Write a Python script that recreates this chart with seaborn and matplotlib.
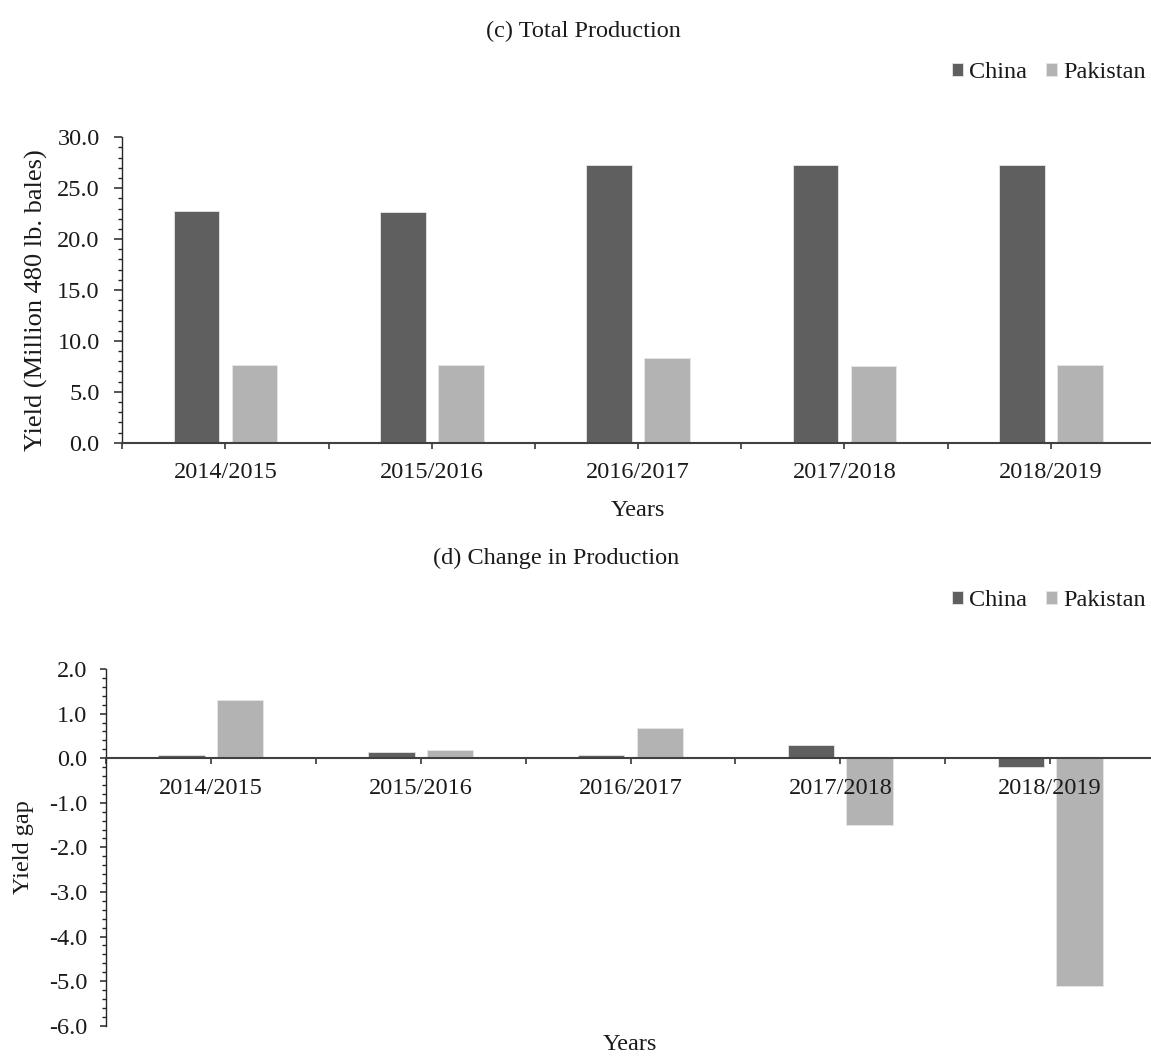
import matplotlib
matplotlib.use("Agg")
import matplotlib.pyplot as plt
from matplotlib.ticker import FixedLocator, MultipleLocator, FormatStrFormatter
import pandas as pd
import seaborn as sns

# Cotton production, China vs Pakistan
years = ["2014/2015", "2015/2016", "2016/2017", "2017/2018", "2018/2019"]
countries = ["China", "Pakistan"]
china_total = [22.8, 22.7, 27.3, 27.3, 27.3]
pakistan_total = [7.6, 7.6, 8.3, 7.5, 7.6]
china_change = [0.08, 0.14, 0.08, 0.30, -0.19]
pakistan_change = [1.3, 0.18, 0.67, -1.5, -5.1]

colors = {"China": "#5f5f5f", "Pakistan": "#b3b3b3"}


def long_table(first, second):
    return pd.DataFrame({
        "Years": years * 2,
        "Country": [countries[0]] * len(years) + [countries[1]] * len(years),
        "Value": list(first) + list(second),
    })


total_df = long_table(china_total, pakistan_total)
change_df = long_table(china_change, pakistan_change)

sns.set_theme(style="white")
plt.rcParams["font.family"] = ["Liberation Serif", "DejaVu Serif"]
plt.rcParams["axes.unicode_minus"] = False
plt.rcParams["text.color"] = "#1a1a1a"
plt.rcParams["xtick.color"] = "#1a1a1a"
plt.rcParams["ytick.color"] = "#1a1a1a"

W, H = 1151, 1057
fig = plt.figure(figsize=(W / 100, H / 100), dpi=100)
FS = 17.5


def px_axes(left, top, right, bottom):
    return fig.add_axes([left / W, 1 - bottom / H, (right - left) / W, (bottom - top) / H])


def fx(x):
    return x / W


def fy(y):
    return 1 - y / H


ax1 = px_axes(122.3, 137.3, 1154, 442.7)
ax2 = px_axes(106, 669, 1155, 1025.7)

for ax, df in ((ax1, total_df), (ax2, change_df)):
    sns.barplot(data=df, x="Years", y="Value", hue="Country", hue_order=countries,
                palette=colors, saturation=1, width=0.56, gap=0.21,
                errorbar=None, edgecolor="#e6e6e6", linewidth=0.6, ax=ax)
    ax.set_xlim(-0.5, len(years) - 0.5)
    ax.set_xlabel("")
    ax.set_ylabel("")
    ax.set_axisbelow(False)
    for side in ("top", "right"):
        ax.spines[side].set_visible(False)
    ax.spines["left"].set_color("#262626")
    ax.spines["left"].set_linewidth(1.0)
    ax.spines["bottom"].set_color("#404040")
    ax.spines["bottom"].set_linewidth(1.5)
    ax.spines["bottom"].set_zorder(5)
    ax.xaxis.set_major_locator(FixedLocator(range(len(years))))
    ax.xaxis.set_minor_locator(FixedLocator([i - 0.5 for i in range(len(years) + 1)]))
    ax.set_xticklabels(years)
    ax.tick_params(axis="x", which="both", direction="out", length=4, width=1.1,
                   color="#262626", labelsize=FS, pad=10, bottom=True)
    ax.yaxis.set_major_formatter(FormatStrFormatter("%.1f"))
    ax.grid(False)
    ax.get_legend().remove()

# Upper panel: totals
ax1.set_ylim(0, 30)
ax1.yaxis.set_major_locator(MultipleLocator(5))
ax1.yaxis.set_minor_locator(MultipleLocator(1))
ax1.tick_params(axis="y", which="major", direction="out", length=5.5, width=1.1,
                color="#262626", labelsize=FS, pad=10.8, left=True)
ax1.tick_params(axis="y", which="minor", direction="out", length=3.1, width=1.0,
                color="#262626", left=True)

# Lower panel: year-on-year change, category axis crossing at zero
ax2.set_ylim(-6, 2)
ax2.spines["bottom"].set_position(("data", 0))
ax2.yaxis.set_major_locator(MultipleLocator(1))
ax2.yaxis.set_minor_locator(MultipleLocator(0.2))
ax2.tick_params(axis="y", which="major", direction="out", length=4, width=1.1,
                color="#262626", labelsize=FS, pad=9.5, left=True)
ax2.tick_params(axis="y", which="minor", direction="out", length=3.1, width=1.0,
                color="#262626", left=True)

for ax, ly in ((ax1, 73), (ax2, 601)):
    h, l = ax.get_legend_handles_labels()
    ax.legend(h, l, loc="center right", bbox_to_anchor=(fx(1146), fy(ly)),
              bbox_transform=fig.transFigure, ncol=2, frameon=False,
              handlelength=0.45, handleheight=0.45, handletextpad=0.25,
              columnspacing=0.8, borderpad=0, borderaxespad=0, fontsize=FS)

fig.text(fx(583), fy(31), "(c) Total Production", ha="center", va="center", fontsize=FS)
fig.text(fx(556), fy(558), "(d) Change in Production", ha="center", va="center", fontsize=FS)
fig.text(fx(638), fy(511), "Years", ha="center", va="center", fontsize=FS)
fig.text(fx(630), fy(1045), "Years", ha="center", va="center", fontsize=FS)
fig.text(fx(36), fy(300), "Yield (Million 480 lb. bales)", rotation=90,
         ha="center", va="center", fontsize=19)
fig.text(fx(24), fy(847), "Yield gap", rotation=90, ha="center", va="center", fontsize=FS)

fig.savefig("out.png", dpi=100, facecolor="white")
